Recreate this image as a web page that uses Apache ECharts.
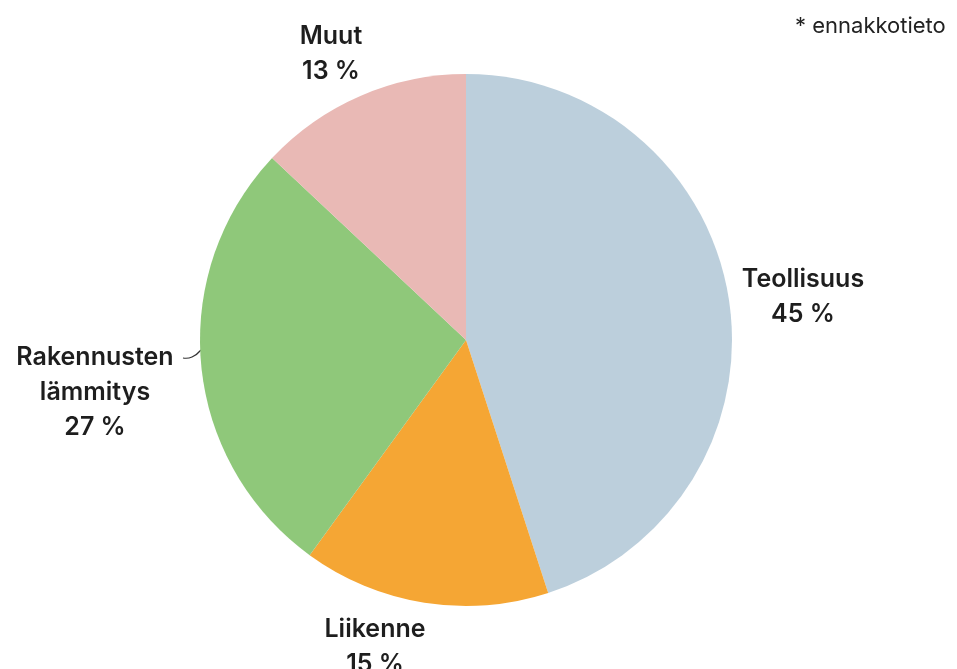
<!DOCTYPE html>
<html>
<head>
<meta charset="utf-8">
<script src="https://cdn.jsdelivr.net/npm/echarts@6/dist/echarts.min.js"></script>
<style>html,body{margin:0;padding:0;background:#fff;}#c{width:957px;height:669px;}</style>
</head>
<body>
<div id="c"></div>
<script>
var categories = ['Teollisuus', 'Liikenne', 'Rakennusten\nlämmitys', 'Muut'];
var values = [45, 15, 27, 13];
var colors = ['#bccfdc', '#f5a634', '#8fc87a', '#e9b9b5'];
var note = '* ennakkotieto';

var labelPos = [
  {x: 803, y: 297},
  {x: 375, y: 647},
  {x: 95, y: 392},
  {x: 331, y: 54}
];

var chart = echarts.init(document.getElementById('c'));
chart.setOption({
  backgroundColor: '#ffffff',
  animation: false,
  graphic: [
    {type: 'text', left: 795, top: 15, style: {text: note, font: '400 22px Inter, "Noto Sans", sans-serif', fill: '#222'}},
    {type: 'polyline', shape: {points: [[183, 358], [192, 357], [201, 350]], smooth: 0.5}, style: {stroke: '#333', lineWidth: 1.2, fill: null}}
  ],
  series: [{
    type: 'pie',
    center: [466, 340],
    radius: [0, 266],
    startAngle: 90,
    clockwise: true,
    data: categories.map(function (n, i) {
      return {name: n, value: values[i], itemStyle: {color: colors[i]}};
    }),
    label: {
      show: true,
      formatter: function (p) { return p.name + '\n' + p.value + ' %'; },
      fontFamily: 'Inter, "Noto Sans", sans-serif',
      fontWeight: 600,
      fontSize: 25,
      lineHeight: 35,
      color: '#1e1e1e',
      align: 'center',
      overflow: 'none',
      width: 300
    },
    labelLine: {show: false},
    labelLayout: function (p) {
      var pos = labelPos[p.dataIndex];
      return {x: pos.x, y: pos.y, align: 'center', verticalAlign: 'middle'};
    },
    emphasis: {disabled: true}
  }]
});
</script>
</body>
</html>
